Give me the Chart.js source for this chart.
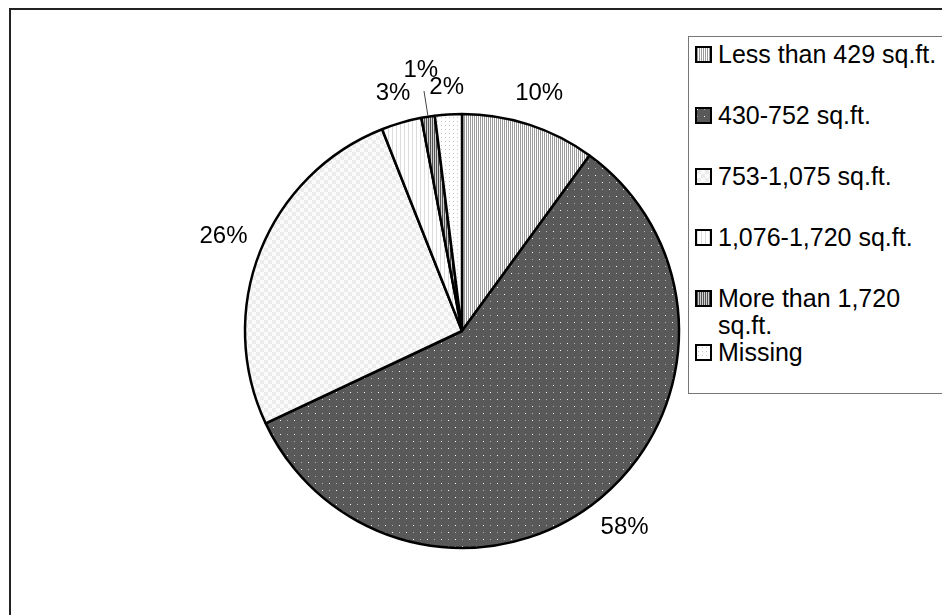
<!DOCTYPE html>
<html>
<head>
<meta charset="utf-8">
<script src="https://cdn.jsdelivr.net/npm/chart.js@4.4.0/dist/chart.umd.min.js"></script>
<style>
  html, body { margin: 0; padding: 0; background: #fff; overflow: hidden; }
  #wrap { position: relative; width: 942px; height: 615px; overflow: hidden; }
  #frame { position: absolute; left: 9px; top: 8px; width: 980px; height: 660px; border: 2px solid #222; box-sizing: border-box; }
  #pie { position: absolute; left: 0; top: 0; }
  #legend {
    position: absolute; left: 688px; top: 36px; width: 290px; height: 358px;
    border: 1px solid #777; box-sizing: border-box; background: #fff;
    padding-top: 4px;
    font-family: "Liberation Sans", Arial, sans-serif; font-size: 25px; color: #000;
  }
  .row { display: flex; align-items: flex-start; line-height: 27px; margin-bottom: 34px; }
  .row.wrapped { margin-bottom: 0; }
  .swatch { width: 13px; height: 13px; border: 2px solid #000; margin: 5px 6px 0 6px; flex: none; }
</style>
</head>
<body>
<div id="wrap">
  <div id="frame"></div>
  <canvas id="pie" width="942" height="615"></canvas>
  <div id="legend"></div>
</div>
<script>
// Floor-area groups and their share of dwellings (%)
const categories = [
    'Less than 429 sq.ft.',
    '430-752 sq.ft.',
    '753-1,075 sq.ft.',
    '1,076-1,720 sq.ft.',
    ['More than 1,720', 'sq.ft.'],
    'Missing'
];
const shares = [10, 58, 26, 3, 1, 2];

// small bitmap tiles used as hatch fills
function makeTile(w, h, bg, marks) {
    const c = document.createElement('canvas');
    c.width = w;
    c.height = h;
    const g = c.getContext('2d');
    g.fillStyle = bg;
    g.fillRect(0, 0, w, h);
    marks.forEach(function(m) {
        g.fillStyle = m[2];
        g.fillRect(m[0], m[1], m[3] || 1, m[4] || 1);
    });
    return c;
}

const tiles = [
    makeTile(2, 1, '#ffffff', [[0, 0, '#9a9a9a']]),                                  // vertical stripes
    makeTile(14, 14, '#595959', [[0, 0, '#ffffff'], [7, 7, '#ffffff'], [7, 0, '#b0b0b0'], [0, 7, '#b0b0b0']]), // dotted dark
    makeTile(8, 8, '#fbfbfb', [[0, 0, '#ececec', 4, 4], [4, 4, '#ececec', 4, 4]]),   // light check
    makeTile(4, 1, '#ffffff', [[0, 0, '#dcdcdc']]),                                  // faint lines
    makeTile(2, 1, '#d0d0d0', [[0, 0, '#505050']]),                                  // dense stripes
    makeTile(4, 4, '#ffffff', [[1, 1, '#c4c4c4']])                                   // sparse dots
];

const ctx = document.getElementById('pie').getContext('2d');
const fills = tiles.map(function(t) { return ctx.createPattern(t, 'repeat'); });

// percentage labels outside the pie, with a leader for very thin slices
const outsideLabels = {
    id: 'outsideLabels',
    afterDatasetsDraw: function(chart) {
        const c = chart.ctx;
        const meta = chart.getDatasetMeta(0);
        c.save();
        c.font = '24px "Liberation Sans", Arial, sans-serif';
        c.fillStyle = '#000';
        c.textAlign = 'center';
        c.textBaseline = 'middle';
        meta.data.forEach(function(arc, i) {
            const p = arc.getProps(['x', 'y', 'startAngle', 'endAngle', 'outerRadius'], true);
            const mid = (p.startAngle + p.endAngle) / 2;
            const cos = Math.cos(mid), sin = Math.sin(mid);
            const text = shares[i] + '%';
            const w = c.measureText(text).width;
            const thin = shares[i] <= 1;
            const gap = thin ? 30 : 12;
            const d = p.outerRadius + gap + Math.abs(cos) * w / 2 + Math.abs(sin) * 14;
            if (thin) {
                c.strokeStyle = '#444';
                c.lineWidth = 1;
                c.beginPath();
                c.moveTo(p.x + cos * (p.outerRadius + 1), p.y + sin * (p.outerRadius + 1));
                c.lineTo(p.x + cos * (p.outerRadius + 26), p.y + sin * (p.outerRadius + 26));
                c.stroke();
            }
            c.fillText(text, p.x + cos * d, p.y + sin * d);
        });
        c.restore();
    }
};

new Chart(ctx, {
    type: 'pie',
    data: {
        labels: categories,
        datasets: [{
            data: shares,
            backgroundColor: fills,
            borderColor: '#000',
            borderWidth: 2.5,
            radius: 217
        }]
    },
    options: {
        responsive: false,
        animation: false,
        layout: {
            padding: { left: 0, right: 18, top: 47, bottom: 0 }
        },
        plugins: {
            legend: { display: false },
            tooltip: { enabled: false }
        }
    },
    plugins: [outsideLabels]
});

// legend box
const legend = document.getElementById('legend');
categories.forEach(function(label, i) {
    const row = document.createElement('div');
    row.className = 'row' + (Array.isArray(label) ? ' wrapped' : '');
    const sw = document.createElement('div');
    sw.className = 'swatch';
    sw.style.background = 'url(' + tiles[i].toDataURL() + ')';
    const txt = document.createElement('div');
    txt.innerHTML = Array.isArray(label) ? label.join('<br>') : label;
    row.appendChild(sw);
    row.appendChild(txt);
    legend.appendChild(row);
});
</script>
</body>
</html>
